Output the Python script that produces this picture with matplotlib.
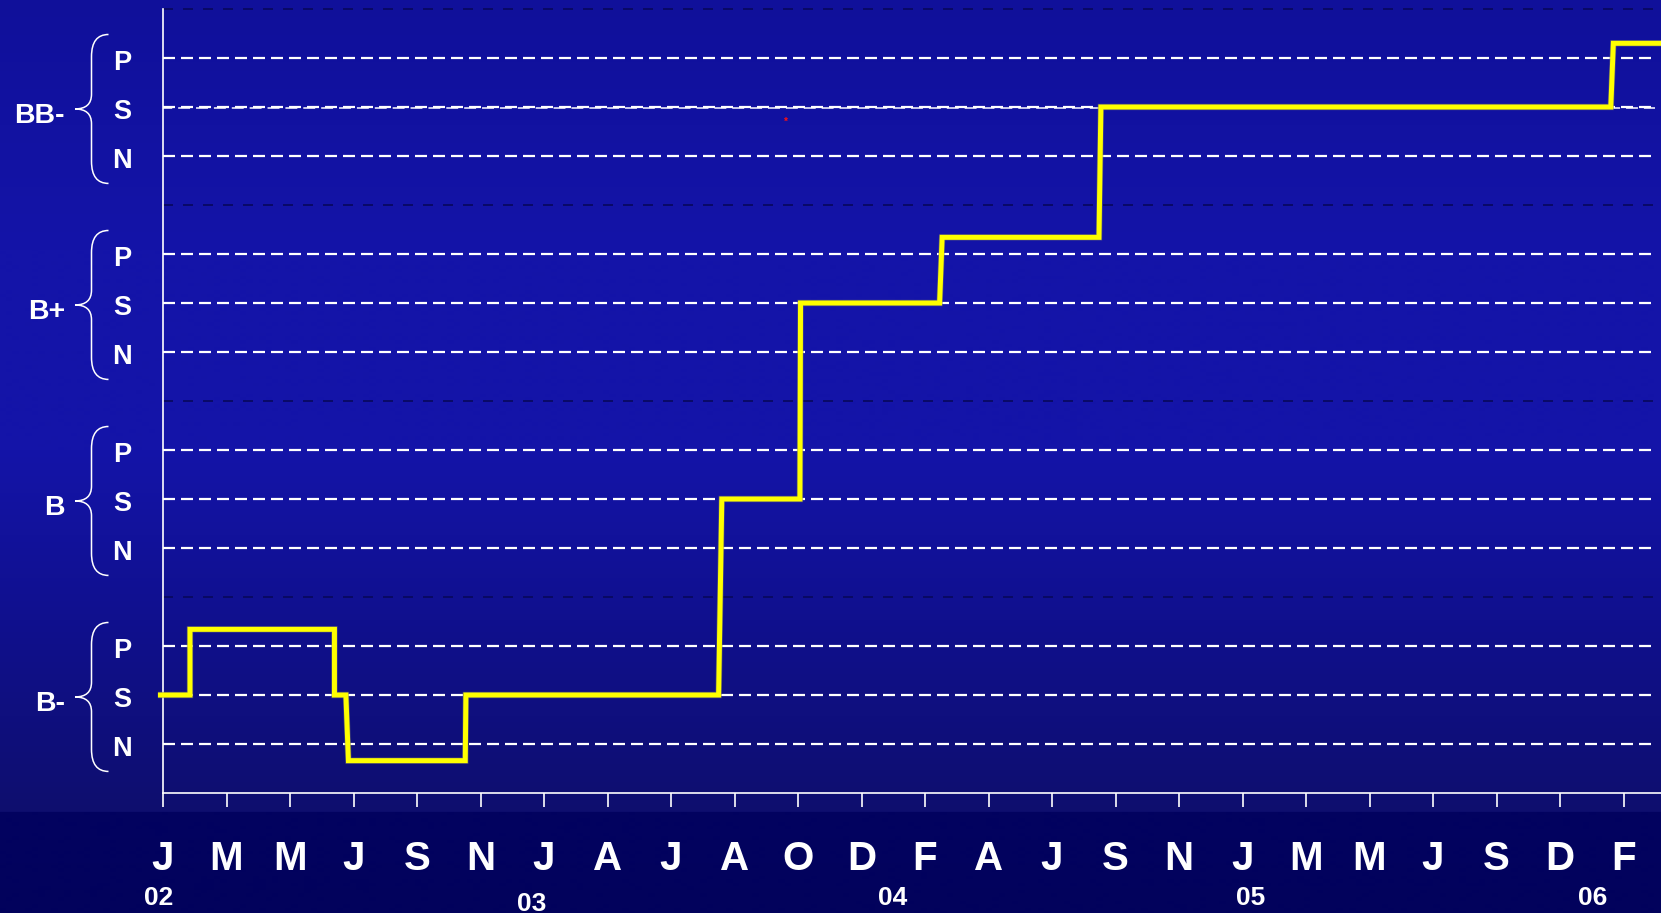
import numpy as np
import matplotlib
matplotlib.use('Agg')
import matplotlib.pyplot as plt
import matplotlib.transforms as mtransforms
import matplotlib.patheffects as pe
from matplotlib.path import Path
from matplotlib.patches import PathPatch

# x axis: one tick per label (tick units)
MONTHS = ["J", "M", "M", "J", "S", "N", "J", "A", "J", "A", "O", "D",
          "F", "A", "J", "S", "N", "J", "M", "M", "J", "S", "D", "F"]
YEARS = ["02", "03", "04", "05", "06"]
YEAR_POS = [-0.07, 5.81, 11.49, 17.13, 22.52]

# y axis: ratings, each split in three outlooks (N / S / P)
RATINGS = ["B-", "B", "B+", "BB-"]
OUTLOOKS = ["N", "S", "P"]

# rating path: x in tick units, y in notch units (B- N = 1 ... BB- P = 15)
RATING_X = [-0.08, 0.425, 0.425, 2.70, 2.70, 2.88, 2.92, 4.76, 4.77, 8.75,
            8.80, 10.03, 10.04, 12.23, 12.27, 14.74, 14.77, 22.80, 22.84, 23.70]
RATING_Y = [2.0, 2.0, 3.34, 3.34, 2.0, 2.0, 0.66, 0.66, 2.0, 2.0,
            6.0, 6.0, 10.0, 10.0, 11.34, 11.34, 14.0, 14.0, 15.3, 15.3]

# ── layout (pixels of the 1661x913 canvas) ──────────────────────────────────
W, H, DPI = 1661, 913, 100
AX_L, AX_B, AX_T = 163, 793, 9
TICK_STEP = 63.5

FONT = 'Liberation Sans'
CAP = 0.716
WHITE = '#FFFFFF'
YELLOW = '#FFFF00'
SEP_COLOR = '#08085C'


def fy(px):
    return 1 - px / H


def fx(px):
    return px / W


fig = plt.figure(figsize=(W / DPI, H / DPI), dpi=DPI)

# ── background gradient + dark bottom band ──────────────────────────────────
bg = fig.add_axes([0, 0, 1, 1], zorder=-10)
stops_px = [0, 250, 450, 620, 811, 812, 913]
stops_rgb = np.array([
    (16, 16, 154), (20, 20, 168), (20, 20, 168), (16, 16, 142),
    (14, 14, 110), (2, 2, 96), (2, 2, 92)]) / 255
rows = np.arange(H)
grad = np.stack([np.interp(rows, stops_px, stops_rgb[:, c]) for c in range(3)], axis=-1)
bg.imshow(grad[:, None, :], extent=[0, 1, 0, 1], aspect='auto', interpolation='bilinear')
bg.axis('off')

# ── main axes ───────────────────────────────────────────────────────────────
ax = fig.add_axes([fx(AX_L), fy(AX_B), fx(W - AX_L), (AX_B - AX_T) / H])
ax.patch.set_alpha(0)
x_max = (W - AX_L) / TICK_STEP
ax.set_xlim(0, x_max)
ax.set_ylim(0, 16)
for s in ['top', 'right']:
    ax.spines[s].set_visible(False)
for s in ['left', 'bottom']:
    ax.spines[s].set_color(WHITE)
    ax.spines[s].set_linewidth(1.2)
ax.set_yticks([])
ax.set_xticks(range(len(MONTHS)))
ax.set_xticklabels([])
ax.tick_params(axis='x', direction='out', length=10, width=1.2, color=WHITE)

# outlook gridlines (white dashed) and rating separators (dark dashed)
levels = [4 * i + j + 1 for i in range(len(RATINGS)) for j in range(len(OUTLOOKS))]
for lv in levels:
    ax.plot([0, x_max - 0.1], [lv, lv], color=WHITE, lw=1.6,
            linestyle=(0, (5.4, 2.7)), zorder=2)
# doubled line at BB- S
ax.plot([0, x_max - 0.1], [13.97, 13.97], color='#D8D8F0', lw=1.3,
        linestyle=(1.5, (6.6, 3.3)), zorder=1.9)
for i in range(len(RATINGS)):
    sep = 4 * (i + 1)
    ax.plot([0, x_max], [sep, sep], color=SEP_COLOR, lw=1.2,
            linestyle=(0, (6, 6)), zorder=1.5, clip_on=False)

# rating path
ax.plot(RATING_X, RATING_Y, color=YELLOW, lw=3.6, solid_joinstyle='miter',
        solid_capstyle='butt', zorder=5, clip_on=False,
        path_effects=[pe.Stroke(linewidth=4.6, foreground='#6A6A70', alpha=0.6), pe.Normal()])

# tiny red mark
ax.text(9.81, 13.69, '*', color='#FF1010', fontsize=7, ha='center', va='center',
        family=FONT, fontweight='bold', zorder=4)

# ── x labels: months + years ────────────────────────────────────────────────
xtr = mtransforms.blended_transform_factory(ax.transData, fig.transFigure)
for i, m in enumerate(MONTHS):
    ax.text(i, fy(870), m, transform=xtr, ha='center', va='baseline',
            fontsize=29, fontweight='bold', color=WHITE, family=FONT, clip_on=False)
for pos, yr in zip(YEAR_POS, YEARS):
    base = 911 if yr == "03" else 905
    ax.text(pos, fy(base), yr, transform=xtr, ha='center', va='baseline',
            fontsize=19, fontweight='bold', color=WHITE, family=FONT, clip_on=False)

# ── y labels: rating names, braces, outlook letters ─────────────────────────
ytr = mtransforms.blended_transform_factory(fig.transFigure, ax.transData)


def cap_center(fs):
    return ytr + mtransforms.ScaledTranslation(0, -CAP * fs / 2 / 72, fig.dpi_scale_trans)


BR_TIP, BR_VERT, BR_END = fx(75), fx(91.5), fx(108.5)
for i, rating in enumerate(RATINGS):
    mid = 4 * i + 2
    ax.text(fx(65), mid - 0.12, rating, transform=cap_center(20.5), ha='right', va='baseline',
            fontsize=20.5, fontweight='bold', color=WHITE, family=FONT, clip_on=False)
    for j, o in enumerate(OUTLOOKS):
        ax.text(fx(122), 4 * i + j + 1 - 0.04, o, transform=cap_center(19.5), ha='center',
                va='baseline', fontsize=19.5, fontweight='bold', color=WHITE,
                family=FONT, clip_on=False)
    top, bot, tip = mid + 1.48, mid - 1.56, mid - 0.04
    verts = [(BR_END, top), (BR_VERT, top), (BR_VERT, top - 0.45),
             (BR_VERT, tip + 0.3), (BR_VERT, tip), (BR_TIP, tip),
             (BR_VERT, tip), (BR_VERT, tip - 0.3),
             (BR_VERT, bot + 0.45), (BR_VERT, bot), (BR_END, bot)]
    codes = [Path.MOVETO, Path.CURVE3, Path.CURVE3,
             Path.LINETO, Path.CURVE3, Path.CURVE3,
             Path.CURVE3, Path.CURVE3,
             Path.LINETO, Path.CURVE3, Path.CURVE3]
    ax.add_patch(PathPatch(Path(verts, codes), transform=ytr, fill=False,
                           edgecolor=WHITE, lw=1.1, clip_on=False))

fig.savefig('out.png', dpi=DPI)
